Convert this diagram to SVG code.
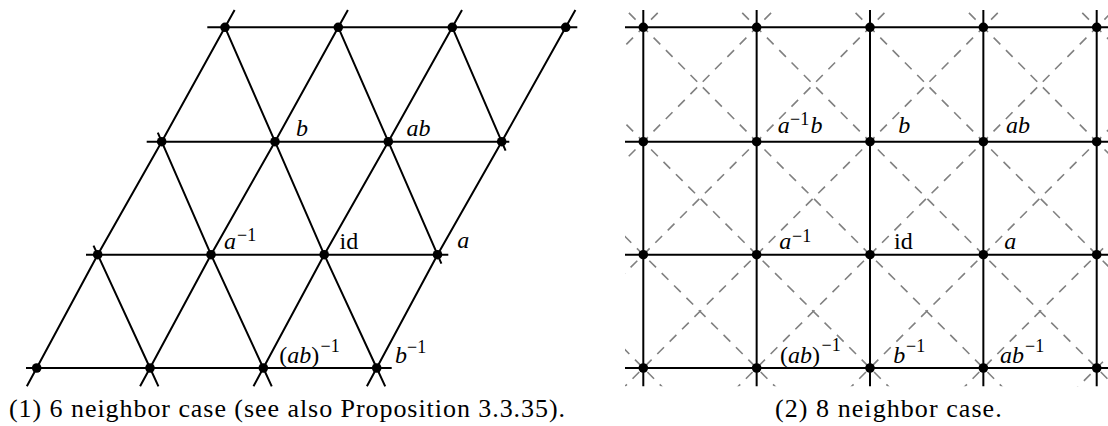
<svg xmlns="http://www.w3.org/2000/svg" width="1108" height="426" viewBox="0 0 1108 426">
<style>
.ln{stroke:#000;stroke-width:2;fill:none;stroke-linecap:butt;stroke-linejoin:round}
.dl{stroke:#808080;stroke-width:1.6;fill:none;stroke-dasharray:9.5 8}
.dot{fill:#000}
.m{font-family:"Liberation Serif","DejaVu Serif",serif;font-size:24px;font-style:italic;fill:#000}
.r{font-family:"Liberation Serif","DejaVu Serif",serif;font-size:24px;font-style:normal;fill:#000}
.s{font-family:"Liberation Serif","DejaVu Serif",serif;font-size:18px;font-style:normal;fill:#000}
.cap{font-family:"Liberation Serif","DejaVu Serif",serif;font-size:26px;fill:#000}
</style>
<defs>
<clipPath id="clipR"><rect x="625" y="10" width="483" height="376.3"/></clipPath>
</defs>
<rect width="1108" height="426" fill="#fff"/>

<!-- LEFT: 6 neighbor case -->
<g id="connectors-left">
<line class="ln" x1="207.3" y1="27.3" x2="577.3" y2="27.3"/>
<line class="ln" x1="146.7" y1="141.7" x2="509.3" y2="141.7"/>
<line class="ln" x1="86" y1="254.7" x2="448.3" y2="254.7"/>
<line class="ln" x1="26" y1="368" x2="391.7" y2="368"/>
<polyline class="ln" points="26.85,386.3 36.7,368 97.7,254.7 161.7,141.7 225,27.3 234.6,10"/>
<polyline class="ln" points="140.1,386.3 150,368 211,254.7 275,141.7 338.3,27.3 347.9,10"/>
<polyline class="ln" points="253.5,386.3 263.3,368 324.2,254.7 388.3,141.7 452.3,27.3 462,10"/>
<polyline class="ln" points="366.9,386.3 376.7,368 437.5,254.7 501.7,141.7 565.7,27.3 575.4,10"/>
<polyline class="ln" points="225,27.3 275,141.7 324.2,254.7 376.7,368 385.2,386.3"/>
<polyline class="ln" points="157.8,132.7 161.7,141.7 211,254.7 263.3,368 271.75,386.3"/>
<polyline class="ln" points="93.5,245.7 97.7,254.7 150,368 158.45,386.3"/>
<polyline class="ln" points="338.3,27.3 388.3,141.7 437.5,254.7 441.4,263.7"/>
<polyline class="ln" points="452.3,27.3 501.7,141.7 505.6,150.7"/>
</g>

<g id="L-r0-0"><circle class="dot" cx="225" cy="27.3" r="4.8"/></g>
<g id="L-r0-1"><circle class="dot" cx="338.3" cy="27.3" r="4.8"/></g>
<g id="L-r0-2"><circle class="dot" cx="452.3" cy="27.3" r="4.8"/></g>
<g id="L-r0-3"><circle class="dot" cx="565.7" cy="27.3" r="4.8"/></g>
<g id="L-r1-0"><circle class="dot" cx="161.7" cy="141.7" r="4.8"/></g>
<g id="L-b"><circle class="dot" cx="275" cy="141.7" r="4.8"/><text class="m" x="296" y="136">b</text></g>
<g id="L-ab"><circle class="dot" cx="388.3" cy="141.7" r="4.8"/><text class="m" x="406.5" y="136">ab</text></g>
<g id="L-r1-3"><circle class="dot" cx="501.7" cy="141.7" r="4.8"/></g>
<g id="L-r2-0"><circle class="dot" cx="97.7" cy="254.7" r="4.8"/></g>
<g id="L-ainv"><circle class="dot" cx="211" cy="254.7" r="4.8"/><text class="m" x="224" y="249">a</text><text class="s" x="237" y="240.5">−1</text></g>
<g id="L-id"><circle class="dot" cx="324.2" cy="254.7" r="4.8"/><text class="r" x="339.5" y="249">id</text></g>
<g id="L-a"><circle class="dot" cx="437.5" cy="254.7" r="4.8"/><text class="m" x="457.3" y="248">a</text></g>
<g id="L-r3-0"><circle class="dot" cx="36.7" cy="368" r="4.8"/></g>
<g id="L-r3-1"><circle class="dot" cx="150" cy="368" r="4.8"/></g>
<g id="L-abinv"><circle class="dot" cx="263.3" cy="368" r="4.8"/><text class="r" x="279.3" y="362.5">(<tspan class="m">ab</tspan>)</text><text class="s" x="320.5" y="352">−1</text></g>
<g id="L-binv"><circle class="dot" cx="376.7" cy="368" r="4.8"/><text class="m" x="395" y="362.5">b</text><text class="s" x="407" y="352.5">−1</text></g>

<text class="cap" x="9" y="417" textLength="556" lengthAdjust="spacing">(1) 6 neighbor case (see also Proposition 3.3.35).</text>

<!-- RIGHT: 8 neighbor case -->
<g id="connectors-right">
<g clip-path="url(#clipR)">
<polyline class="dl" points="189.9,-86.2 303.25,27.3 416.6,141.7 529.95,254.7 643.3,368 756.65,481.5"/>
<polyline class="dl" points="303.25,-86.2 416.6,27.3 529.95,141.7 643.3,254.7 756.65,368 870,481.5"/>
<polyline class="dl" points="416.6,-86.2 529.95,27.3 643.3,141.7 756.65,254.7 870,368 983.35,481.5"/>
<polyline class="dl" points="529.95,-86.2 643.3,27.3 756.65,141.7 870,254.7 983.35,368 1096.7,481.5"/>
<polyline class="dl" points="643.3,-86.2 756.65,27.3 870,141.7 983.35,254.7 1096.7,368 1210.05,481.5"/>
<polyline class="dl" points="756.65,-86.2 870,27.3 983.35,141.7 1096.7,254.7 1210.05,368 1323.4,481.5"/>
<polyline class="dl" points="870,-86.2 983.35,27.3 1096.7,141.7 1210.05,254.7 1323.4,368"/>
<polyline class="dl" points="983.35,-86.2 1096.7,27.3 1210.05,141.7 1323.4,254.7"/>
<polyline class="dl" points="756.65,-86.2 643.3,27.3 529.95,141.7"/>
<polyline class="dl" points="870,-86.2 756.65,27.3 643.3,141.7 529.95,254.7"/>
<polyline class="dl" points="983.35,-86.2 870,27.3 756.65,141.7 643.3,254.7 529.95,368"/>
<polyline class="dl" points="1096.7,-86.2 983.35,27.3 870,141.7 756.65,254.7 643.3,368 529.95,481.5"/>
<polyline class="dl" points="1210.05,-86.2 1096.7,27.3 983.35,141.7 870,254.7 756.65,368 643.3,481.5"/>
<polyline class="dl" points="1323.4,-86.2 1210.05,27.3 1096.7,141.7 983.35,254.7 870,368 756.65,481.5"/>
<polyline class="dl" points="1436.75,-86.2 1323.4,27.3 1210.05,141.7 1096.7,254.7 983.35,368 870,481.5"/>
<polyline class="dl" points="1436.75,27.3 1323.4,141.7 1210.05,254.7 1096.7,368 983.35,481.5"/>
</g>
<line class="ln" x1="625" y1="27.3" x2="1108" y2="27.3"/>
<line class="ln" x1="625" y1="141.7" x2="1108" y2="141.7"/>
<line class="ln" x1="625" y1="254.7" x2="1108" y2="254.7"/>
<line class="ln" x1="625" y1="368" x2="1108" y2="368"/>
<line class="ln" x1="643.3" y1="10" x2="643.3" y2="386.3"/>
<line class="ln" x1="756.65" y1="10" x2="756.65" y2="386.3"/>
<line class="ln" x1="870" y1="10" x2="870" y2="386.3"/>
<line class="ln" x1="983.35" y1="10" x2="983.35" y2="386.3"/>
<line class="ln" x1="1096.7" y1="10" x2="1096.7" y2="386.3"/>
</g>

<g id="R-r0-0"><circle class="dot" cx="643.3" cy="27.3" r="4.8"/></g>
<g id="R-r0-1"><circle class="dot" cx="756.65" cy="27.3" r="4.8"/></g>
<g id="R-r0-2"><circle class="dot" cx="870" cy="27.3" r="4.8"/></g>
<g id="R-r0-3"><circle class="dot" cx="983.35" cy="27.3" r="4.8"/></g>
<g id="R-r0-4"><circle class="dot" cx="1096.7" cy="27.3" r="4.8"/></g>
<g id="R-r1-0"><circle class="dot" cx="643.3" cy="141.7" r="4.8"/></g>
<g id="R-ainvb"><circle class="dot" cx="756.65" cy="141.7" r="4.8"/><text class="m" x="777.7" y="132.5">a</text><text class="s" x="790" y="124.5">−1</text><text class="m" x="810.5" y="132.5">b</text></g>
<g id="R-b"><circle class="dot" cx="870" cy="141.7" r="4.8"/><text class="m" x="898.3" y="132.5">b</text></g>
<g id="R-ab"><circle class="dot" cx="983.35" cy="141.7" r="4.8"/><text class="m" x="1006" y="132.5">ab</text></g>
<g id="R-r1-4"><circle class="dot" cx="1096.7" cy="141.7" r="4.8"/></g>
<g id="R-r2-0"><circle class="dot" cx="643.3" cy="254.7" r="4.8"/></g>
<g id="R-ainv"><circle class="dot" cx="756.65" cy="254.7" r="4.8"/><text class="m" x="779.3" y="249">a</text><text class="s" x="792" y="241.5">−1</text></g>
<g id="R-id"><circle class="dot" cx="870" cy="254.7" r="4.8"/><text class="r" x="894" y="249">id</text></g>
<g id="R-a"><circle class="dot" cx="983.35" cy="254.7" r="4.8"/><text class="m" x="1004.3" y="249">a</text></g>
<g id="R-r2-4"><circle class="dot" cx="1096.7" cy="254.7" r="4.8"/></g>
<g id="R-r3-0"><circle class="dot" cx="643.3" cy="368" r="4.8"/></g>
<g id="R-abinv"><circle class="dot" cx="756.65" cy="368" r="4.8"/><text class="r" x="780" y="363">(<tspan class="m">ab</tspan>)</text><text class="s" x="821.5" y="351">−1</text></g>
<g id="R-binv"><circle class="dot" cx="870" cy="368" r="4.8"/><text class="m" x="893.3" y="363">b</text><text class="s" x="906" y="352">−1</text></g>
<g id="R-abinv2"><circle class="dot" cx="983.35" cy="368" r="4.8"/><text class="m" x="1000" y="363">ab</text><text class="s" x="1025" y="352">−1</text></g>
<g id="R-r3-4"><circle class="dot" cx="1096.7" cy="368" r="4.8"/></g>

<text class="cap" x="775" y="417" textLength="226.7" lengthAdjust="spacing">(2) 8 neighbor case.</text>
</svg>
